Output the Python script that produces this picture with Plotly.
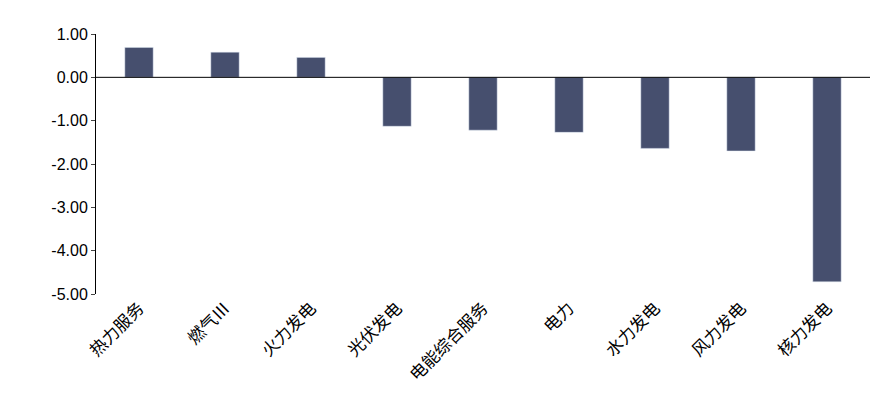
import plotly.graph_objects as go

categories = ["热力服务", "燃气Ⅲ", "火力发电", "光伏发电", "电能综合服务", "电力", "水力发电", "风力发电", "核力发电"]
values = [0.69, 0.58, 0.46, -1.13, -1.22, -1.27, -1.64, -1.70, -4.72]
tick_vals = [1, 0, -1, -2, -3, -4, -5]
tick_text = ["1.00", "0.00", "-1.00", "-2.00", "-3.00", "-4.00", "-5.00"]

fig = go.Figure(go.Bar(x=categories, y=values, marker_color="#464f6e", width=0.33))
fig.update_layout(
    width=878, height=403, plot_bgcolor="white", paper_bgcolor="white",
    margin=dict(l=88, r=16, t=26, b=117, autoexpand=False), showlegend=False,
    font=dict(family="Noto Sans CJK SC, Arial", size=17, color="black"),
)
fig.update_yaxes(range=[-5, 1], tickvals=tick_vals, ticktext=tick_text, showgrid=False,
                 showline=True, linecolor="black", ticks="outside", ticklen=4,
                 zeroline=False, automargin=False,
                 tickfont=dict(family="Liberation Sans, Arial", size=16))
fig.update_xaxes(tickangle=-45, showgrid=False, showline=False, ticks="", automargin=False)
fig.add_hline(y=0, line_color="black", line_width=1)
fig.write_html("out.html")
